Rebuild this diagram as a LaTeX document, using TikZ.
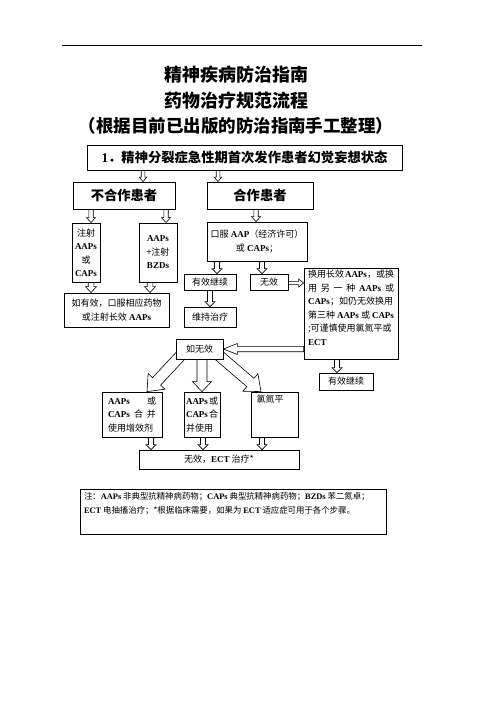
\documentclass[tikz,border=0pt]{standalone}
\usepackage{fontspec}
\setmainfont{Liberation Serif}
\newfontfamily\cjk{Noto Sans CJK SC}
\usetikzlibrary{calc}
\pgfdeclarelayer{bg}
\pgfsetlayers{bg,main}
\newcommand\lat[1]{{\rmfamily\bfseries #1}}
\newcommand\harr[5]{%
  \path (#1) coordinate (hs) (#2) coordinate (he);
  \path ($(he)!#5!(hs)$) coordinate (hb);
  \begin{pgfonlayer}{bg}
  \draw[arr] ($(hs)!#3!90:(he)$) -- ($(hb)!#3!90:(he)$) -- ($(hb)!#4!90:(he)$) -- (he)
     -- ($(hb)!#4!-90:(he)$) -- ($(hb)!#3!-90:(he)$) -- ($(hs)!#3!-90:(he)$) -- cycle;
  \end{pgfonlayer}}
\newcommand\bx[6]{%
  \node[box, minimum width={(#4-#2)*1pt}, minimum height={(#5-#3)*1pt}] (#1)
     at ({(#2+#4)/2},{(#3+#5)/2}) {#6};}
\newcommand\tline[1]{\makebox[\linewidth][l]{#1}}
\begin{document}
\begin{tikzpicture}[x=1pt,y=-1pt,
  box/.style={draw=black, line width=0.8pt, fill=white, inner sep=0pt,
    font=\cjk\fontsize{9}{13.5}\selectfont, align=center},
  arr/.style={draw=black, fill=white, line width=0.6pt, line join=miter},
  ttl/.style={font=\cjk\bfseries\fontsize{18}{20}\selectfont, inner sep=0pt}]
\begin{pgfonlayer}{bg}
\fill[white] (0,0) rectangle (496,702);
\end{pgfonlayer}
\useasboundingbox (0,0) rectangle (496,702);
\draw[line width=0.8pt] (62,45) -- (422,45);
\node[ttl] (t1) at (236,75) {精神疾病防治指南};
\node[ttl] (t2) at (236,101) {药物治疗规范流程};
\node[ttl, font=\cjk\bfseries\fontsize{17.5}{20}\selectfont] (t3) at (236,126) {（根据目前已出版的防治指南手工整理）};

\bx{box1}{87}{145}{402}{170}{\bfseries\fontsize{13.3}{15}\selectfont\lat{1}．精神分裂症急性期首次发作患者幻觉妄想状态}
\bx{bh}{73}{182}{175}{209}{\bfseries\fontsize{13.3}{15}\selectfont 不合作患者}
\bx{bc}{207}{182}{313}{209}{\bfseries\fontsize{13.3}{15}\selectfont 合作患者}
\bx{inj}{72}{223}{100}{282}{注射\\\lat{AAPs}\\或\\\lat{CAPs}}
\bx{abz}{139}{223}{177}{282}{\lat{AAPs}\\+注射\\\lat{BZDs}}
\bx{oral}{207}{222}{307}{261}{口服 \lat{AAP}（经济许可）\\或 \lat{CAPs}；}
\bx{ifeff}{64}{293}{169}{327}{如有效，口服相应药物\\或注射长效 \lat{AAPs}}
\bx{cont1}{184}{274}{236}{290}{有效继续}
\bx{noeff}{250}{274}{288}{290}{无效}
\bx{maint}{184}{307}{236}{327}{维持治疗}
\bx{sw}{304}{268}{398}{359}{\parbox[c][87pt][t]{86pt}{%
  \tline{换用长效\hfill\lat{AAPs}，或换}\par
  \tline{用\hfill 另\hfill 一\hfill 种\hfill\lat{AAPs}\hfill 或}\par
  \tline{\lat{CAPs}；如仍无效换用}\par
  \tline{第三种\hfill\lat{AAPs}\hfill 或\hfill\lat{CAPs}}\par
  \tline{;可谨慎使用氯氮平或}\par
  \tline{\lat{ECT}}}}
\bx{cont2}{319}{373}{373}{390}{有效继续}
\bx{ifno}{176}{339}{223}{359}{如无效}
\bx{c1}{102}{392}{162}{437}{\parbox{48pt}{%
  \tline{\lat{AAPs}\hfill 或}\par
  \tline{\lat{CAPs}\hfill 合\hfill 并}\par
  \tline{使用增效剂}}}
\bx{c2}{184}{392}{220}{437}{\parbox{32pt}{%
  \tline{\lat{AAPs}\hfill 或}\par
  \tline{\lat{CAPs}\hfill 合}\par
  \tline{并使用}}}
\bx{cloz}{251}{392}{298}{437}{\parbox[c][39pt][t]{36pt}{\tline{氯氮平}}}
\bx{ect}{139}{450}{299}{469}{无效，\lat{ECT} 治疗*}
\bx{note}{80}{489}{386}{534}{\parbox[c][41pt][t]{298pt}{\fontsize{8.4}{14}\selectfont\vspace*{1pt}%
  \tline{注：\lat{AAPs} 非典型抗精神病药物；\lat{CAPs} 典型抗精神病药物；\lat{BZDs} 苯二氮卓；}\par
  \tline{\lat{ECT} 电抽搐治疗；*根据临床需要，如果为 \lat{ECT} 适应症可用于各个步骤。}}}

% arrow positions
\coordinate (xa) at (143,0);
\coordinate (xb) at (218,0);
\coordinate (xc) at (91,0);
\coordinate (xd) at (166,0);
\coordinate (xe) at (256,0);
\coordinate (xf) at (150,0);
\coordinate (xg) at (217,0);
\coordinate (xh) at (262,0);
\coordinate (xi) at (210,0);
\coordinate (xj) at (337,0);
\coordinate (xk) at (202,0);
\coordinate (xl) at (147,0);
\coordinate (xm) at (261,0);
\coordinate (xn) at (151,0);
\coordinate (xo) at (203,0);
\coordinate (xp) at (262,0);
\coordinate (ya) at (0,283);
\coordinate (yb) at (0,349);
\coordinate (dls) at ($(ifno.south west)+(8,-7)$);
\coordinate (drs) at ($(ifno.south east)+(-8,-7)$);

\harr{box1.south -| xa}{bh.north -| xa}{1.8pt}{3.8pt}{4.5pt}
\harr{box1.south -| xb}{bc.north -| xb}{1.8pt}{3.8pt}{4.5pt}
\harr{bh.south -| xc}{inj.north -| xc}{2.2pt}{4.5pt}{5pt}
\harr{bh.south -| xd}{abz.north -| xd}{2.2pt}{4.5pt}{5pt}
\harr{bc.south -| xe}{oral.north -| xe}{2.2pt}{4.5pt}{5pt}
\harr{inj.south -| xc}{ifeff.north -| xc}{2.8pt}{5.5pt}{6pt}
\harr{abz.south -| xf}{ifeff.north -| xf}{2.8pt}{5.5pt}{6pt}
\harr{oral.south -| xg}{cont1.north -| xg}{2.5pt}{5pt}{5pt}
\harr{oral.south -| xh}{noeff.north -| xh}{2.5pt}{5pt}{5pt}
\harr{cont1.south -| xi}{maint.north -| xi}{2.5pt}{5pt}{5pt}
\harr{noeff.east |- ya}{sw.west |- ya}{1.6pt}{4pt}{5pt}
\harr{sw.south -| xj}{cont2.north -| xj}{2.5pt}{5pt}{5pt}
\harr{sw.west |- yb}{ifno.east |- yb}{2.7pt}{5.5pt}{14pt}
\harr{ifno.south -| xk}{c2.north -| xk}{5pt}{9.5pt}{10pt}
\harr{dls}{c1.north -| xl}{5.5pt}{11.5pt}{14pt}
\harr{drs}{cloz.north -| xm}{5.5pt}{11.5pt}{14pt}
\harr{c1.south -| xn}{ect.north -| xn}{2.5pt}{5pt}{5pt}
\harr{c2.south -| xo}{ect.north -| xo}{2.5pt}{5pt}{5pt}
\harr{cloz.south -| xp}{ect.north -| xp}{2.5pt}{5pt}{5pt}
\end{tikzpicture}
\end{document}
